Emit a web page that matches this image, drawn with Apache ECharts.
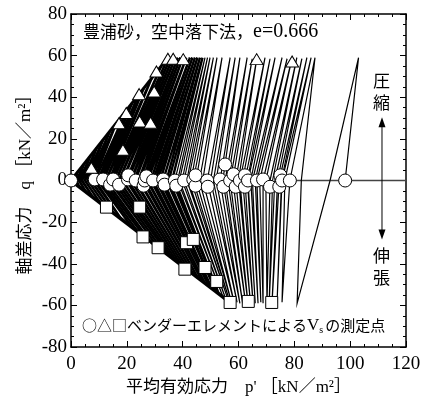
<!DOCTYPE html>
<html>
<head>
<meta charset="utf-8">
<script src="https://cdn.jsdelivr.net/npm/echarts@6/dist/echarts.min.js"></script>
<style>
  html, body { margin: 0; padding: 0; background: #fff; }
  #main { width: 431px; height: 399px; }
</style>
</head>
<body>
<div id="main"></div>
<script>
// 各サイクルの起点 p' (q=0)
const cycleStart = [0, 1, 2, 3, 4, 5, 6, 7, 8.6, 9.5, 10.5, 11.3, 12.5, 14, 15.1, 16, 17.2, 18.5, 20.4, 21.5, 23, 24.5, 26.2, 27.5, 29.4, 31, 33, 35, 37.2, 38.8, 40.5, 42, 43.8, 46, 48.8, 51, 53.4, 55.2, 57, 59, 60.5, 62.3, 63.4, 65, 66.6, 68.8, 71.3, 73, 74.6, 75.6, 78.4, 92.8]
// 圧縮側の到達点
const topP = [1.2, 2.3, 4.6, 6.9, 9.2, 11.5, 13.9, 16.2, 19.9, 21.9, 24.2, 26.1, 28.9, 32.3, 34.7, 35.6, 36.5, 37.4, 38.3, 39.2, 40.1, 41.3, 42.6, 43.5, 44.4, 45.3, 46.2, 47.1, 48, 48.9, 49.8, 51, 52.3, 54.1, 57, 58.8, 60.5, 63.1, 64.9, 66.6, 69.5, 71.3, 73.1, 75.6, 77.4, 79.2, 80.9, 82.7, 84.5, 86, 87.4, 103]
const topQ = [2, 3.9, 7.8, 11.8, 15.7, 19.6, 23.6, 27.5, 33.8, 37.2, 41.1, 44.4, 49.1, 55, 59, 59, 59, 59, 59, 59, 59, 59, 59, 59, 59, 59, 59, 59, 59, 59, 59, 59, 59, 59, 59, 59, 59, 59, 58.5, 59, 59, 58.5, 59, 59, 58.5, 59, 59, 58.5, 59, 59, 59, 59]
// 除荷して q=0 に戻る点
const midP = [0.6, 1.6, 2.8, 3.8, 5, 6, 7.2, 8.2, 9.8, 10.6, 11.6, 12.5, 13.6, 15, 16.2, 17.2, 18.4, 19.8, 21.5, 22.6, 24.2, 25.6, 27.2, 28.6, 30.4, 32, 34.2, 36.2, 38.2, 39.8, 41.5, 43, 44.8, 47.2, 50, 52, 54.4, 56.2, 58, 60, 61.5, 63.2, 64.4, 66, 67.6, 69.8, 72.2, 74, 75.4, 76.6, 82.5, 98.2]
// 伸張側の到達点
const botP = [1, 3, 5.5, 8, 10.5, 13, 15.5, 18, 22, 24, 26.5, 28.5, 31, 33, 35, 36.5, 38, 39.5, 41, 42.5, 44, 45.5, 47, 48, 49.5, 50.5, 52, 53, 54.5, 55.5, 56.5, 57, 57.6, 58.5, 59.5, 60.5, 61.5, 62.5, 63.4, 64.3, 65.2, 66, 67, 68, 68.8, 70.2, 71, 72, 73.8, 75.6, 81, null]
const botQ = [-1, -3.1, -5.7, -8.2, -10.8, -13.4, -16, -18.5, -22.7, -24.7, -27.3, -29.4, -31.9, -34, -36, -37.6, -39.1, -40.7, -42.2, -43.8, -45.3, -46.9, -48.4, -49.4, -51, -52, -53.6, -54.6, -56.1, -57.2, -58.2, -58.7, -59, -59, -58.5, -59, -59, -58.5, -59, -59, -58.5, -59, -59, -58.5, -59, -59, -58.5, -59, -59, -58.5, -59, null]
// 低応力域 (線が重なって黒くなる範囲) のサイクル数
const denseCount = 28

// ベンダーエレメント測定点
const circles = [[0, 0], [8.5, 0.5], [11.5, 0.5], [14, -2], [15.1, 0.5], [17.2, -2], [20.4, 0.5], [20.5, 2.5], [23.2, 0], [26, -2.5], [26.4, 0], [27, 2], [29.4, 0], [33, 0.5], [33.5, -2], [37.2, 0], [37.7, -2.5], [40.5, 0], [43.8, 0.5], [44.6, -2.5], [44.6, 2.5], [48.8, 0], [49, -3], [53.4, 0.5], [54.6, -3], [55.2, 7.7], [57, 0], [58.2, 3], [59, -3], [60.5, 0], [62.3, -3], [62.3, 2.5], [63.4, 0], [66.6, 0], [68.8, 0.5], [71.3, -3], [74.6, -3], [75, 2.5], [75.6, 0], [78.4, 0], [98.2, 0]]
const triangles = [[7.3, 6.1], [17.2, 27.5], [18.6, 14.8], [19.8, 32.4], [24.4, 41.5], [24.6, 28.4], [28.5, 27.8], [29.8, 42.8], [30.6, 52.4], [34.7, 58.5], [36.6, 58.5], [40.2, 58.3], [66.5, 58.3], [79.2, 57.2]]
const squares = [[12.7, -12.8], [24.6, -12.8], [25.8, -27.1], [31.2, -32.3], [40.8, -42.6], [41.4, -29.9], [43.8, -28.3], [48, -41.8], [52.2, -48.5], [57, -58.6], [63.5, -58.1], [71.9, -58.6]]

// 破壊線 (包絡)
const envelopeComp = [[0, 0], [35, 59.5]]
const envelopeExt = [[0, 0], [57.5, -59.2]]
const zeroLine = [80, 120]
const arrowP = 111.4
const arrowQ = [28, -26]

const serif = "'Liberation Serif', 'Noto Sans CJK JP', serif"
const jp = "'Noto Sans CJK JP', sans-serif"

// 応力経路 (1サイクルごとの折れ線)
let densePaths = []
let thinPaths = []
for (let i = 0; i < cycleStart.length; i++) {
  let c = [[cycleStart[i], 0], [topP[i], topQ[i]], [midP[i], 0]]
  if (botP[i] !== null) c.push([botP[i], botQ[i]])
  if (i + 1 < cycleStart.length) c.push([cycleStart[i + 1], 0])
  if (i < denseCount) densePaths.push({ coords: c })
  else thinPaths.push({ coords: c })
}

const axisCommon = {
  axisLine: { onZero: false, lineStyle: { color: '#000', width: 1.5 } },
  axisTick: { inside: true, length: 6, lineStyle: { color: '#000', width: 1 } },
  minorTick: { show: true, splitNumber: 4, length: 3, lineStyle: { color: '#000', width: 1 } },
  splitLine: { show: false }
}
const markerStyle = { color: '#fff', borderColor: '#000', borderWidth: 1, opacity: 1 }

let myChart = echarts.init(document.getElementById('main'))
myChart.setOption({
  animation: false,
  backgroundColor: '#fff',
  grid: { left: 71, right: 25, top: 14, bottom: 52, outerBoundsMode: 'none', containLabel: false },
  xAxis: [
    Object.assign({
      type: 'value', min: 0, max: 120, interval: 20, position: 'bottom',
      axisLabel: { color: '#000', fontFamily: serif, fontSize: 19, margin: 8 },
      name: "平均有効応力　p' ［kN／m²］", nameLocation: 'middle', nameGap: 31,
      nameTextStyle: { color: '#000', fontFamily: serif, fontSize: 17 }
    }, axisCommon),
    Object.assign({
      type: 'value', min: 0, max: 120, interval: 20, position: 'top',
      axisLabel: { show: false }
    }, axisCommon)
  ],
  yAxis: [
    Object.assign({
      type: 'value', min: -80, max: 80, interval: 20, position: 'left',
      axisLabel: { color: '#000', fontFamily: serif, fontSize: 19, margin: 4 },
      name: '軸差応力　q ［kN／m²］', nameLocation: 'middle', nameGap: 37, nameRotate: 90,
      nameMoveOverlap: false,
      nameTextStyle: { color: '#000', fontFamily: serif, fontSize: 17 }
    }, axisCommon),
    Object.assign({
      type: 'value', min: -80, max: 80, interval: 20, position: 'right',
      axisLabel: { show: false }
    }, axisCommon)
  ],
  series: [
    {
      type: 'line', data: [[zeroLine[0], 0], [zeroLine[1], 0]],
      showSymbol: false, lineStyle: { color: '#444', width: 1.5 }, z: 1, silent: true
    },
    {
      type: 'lines', coordinateSystem: 'cartesian2d', polyline: true, data: densePaths,
      lineStyle: { color: '#000', width: 2.4, opacity: 1 }, z: 2, silent: true
    },
    {
      type: 'lines', coordinateSystem: 'cartesian2d', polyline: true, data: thinPaths,
      lineStyle: { color: '#000', width: 1.2, opacity: 1 }, z: 2, silent: true
    },
    {
      type: 'line', data: envelopeComp, showSymbol: false,
      lineStyle: { color: '#000', width: 3 }, z: 2, silent: true
    },
    {
      type: 'line', data: envelopeExt, showSymbol: false,
      lineStyle: { color: '#000', width: 3.5 }, z: 2, silent: true
    },
    {
      type: 'line',
      data: [
        { value: [arrowP, arrowQ[0]], symbol: 'triangle', symbolSize: [7, 10] },
        { value: [arrowP, arrowQ[1]], symbol: 'triangle', symbolSize: [7, 10], symbolRotate: 180 }
      ],
      showSymbol: true, itemStyle: { color: '#000', opacity: 1 },
      lineStyle: { color: '#000', width: 1 }, z: 3, silent: true
    },
    {
      type: 'scatter', data: circles, symbol: 'circle', symbolSize: 13,
      itemStyle: markerStyle, z: 5, silent: true
    },
    {
      type: 'scatter', data: triangles, symbol: 'triangle', symbolSize: [13, 11],
      itemStyle: markerStyle, z: 5, silent: true
    },
    {
      type: 'scatter', data: squares, symbol: 'rect', symbolSize: 12,
      itemStyle: markerStyle, z: 5, silent: true
    }
  ],
  graphic: [
    {
      type: 'text', left: 83, top: 22, z: 10,
      style: {
        text: '{a|豊浦砂，空中落下法，}{b|e=0.666}',
        rich: {
          a: { fontFamily: jp, fontSize: 17, fill: '#000' },
          b: { fontFamily: serif, fontSize: 20, fill: '#000' }
        }
      }
    },
    {
      type: 'text', left: 373, top: 70, z: 10,
      style: { text: '圧\n縮', fill: '#000', font: '17px ' + jp, lineHeight: 22 }
    },
    {
      type: 'text', left: 373, top: 245, z: 10,
      style: { text: '伸\n張', fill: '#000', font: '17px ' + jp, lineHeight: 22 }
    },
    {
      type: 'text', left: 82, top: 317, z: 10,
      style: {
        text: '{a|○△□ベンダーエレメントによる}{v|V}{s|s}{a|の測定点}',
        rich: {
          a: { fontFamily: jp, fontSize: 15, fill: '#000' },
          v: { fontFamily: serif, fontSize: 17, fill: '#000' },
          s: { fontFamily: serif, fontSize: 10, fill: '#000', padding: [10, 2, 0, 0] }
        }
      }
    }
  ]
})
</script>
</body>
</html>
